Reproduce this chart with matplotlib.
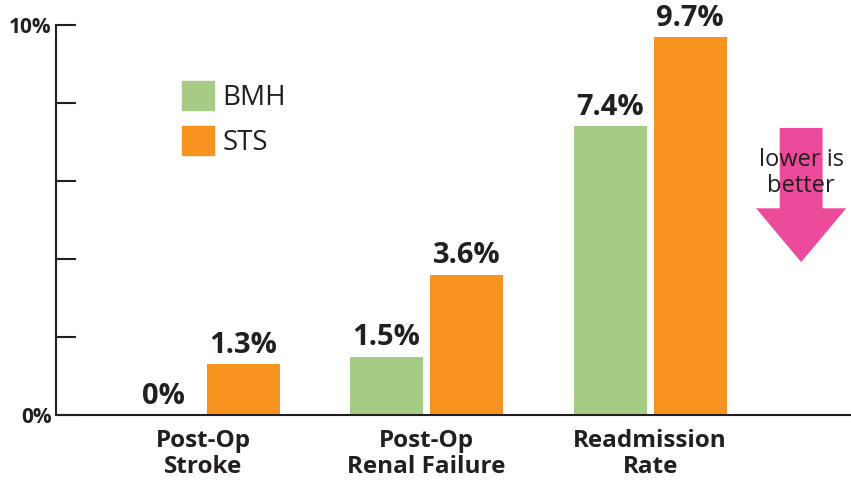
import matplotlib.pyplot as plt
import matplotlib.patches as mpatches
import numpy as np

categories = ["Post-Op\nStroke", "Post-Op\nRenal Failure", "Readmission\nRate"]
bmh = [0.0, 1.5, 7.4]
sts = [1.3, 3.6, 9.7]
series_names = ["BMH", "STS"]
ytick_vals = [0, 2, 4, 6, 8, 10]
ytick_labels = ["0%", "", "", "", "", "10%"]

green = "#A6CB85"
orange = "#F7931E"
pink = "#EC4A9B"
ink = "#231F20"

plt.rcParams["font.family"] = ["Open Sans", "DejaVu Sans"]

fig = plt.figure(figsize=(8.51, 4.84), dpi=100)
ax = fig.add_axes([56 / 851, 69 / 484, 1 - 56 / 851, 390 / 484])

x = np.arange(len(categories))
w = 0.327
off = 0.179
b1 = ax.bar(x - off, bmh, w, color=green, zorder=2)
b2 = ax.bar(x + off, sts, w, color=orange, zorder=2)

for bars, vals in [(b1, bmh), (b2, sts)]:
    for r, v in zip(bars, vals):
        ax.annotate(f"{v:g}%", (r.get_x() + r.get_width() / 2, v),
                    xytext=(0, 3), textcoords="offset points",
                    ha="center", va="bottom", fontsize=21, fontweight="bold", color=ink)

ax.set_xlim(-0.658, 2.899)
ax.set_ylim(0, 10)
ax.set_yticks(ytick_vals)
ax.set_yticklabels(ytick_labels, fontsize=15, fontweight="bold", color=ink)
ax.set_xticks(x)
ax.set_xticklabels(categories, fontsize=17.5, fontweight="bold", color=ink, linespacing=1.1)
ax.tick_params(axis="x", length=0, pad=10)
ax.tick_params(axis="y", direction="in", length=14.5, width=1.5, color=ink, pad=3)

for s in ["top", "right"]:
    ax.spines[s].set_visible(False)
for s in ["left", "bottom"]:
    ax.spines[s].set_linewidth(1.5)
    ax.spines[s].set_color(ink)

# legend
handles = [mpatches.Patch(color=green, label=series_names[0]),
           mpatches.Patch(color=orange, label=series_names[1])]
leg = ax.legend(handles=handles, loc="upper left", bbox_to_anchor=(126 / 795, 1 - 56 / 390),
                frameon=False, fontsize=20, handlelength=1.15, handleheight=1.25,
                handletextpad=0.3, labelspacing=0.5, borderpad=0, borderaxespad=0)
for t in leg.get_texts():
    t.set_color(ink)

# "lower is better" arrow
ax.arrow(2.676, 7.36, 0, -3.44, width=0.192, head_width=0.403, head_length=1.38,
         length_includes_head=True, color=pink, lw=0, zorder=1)
ax.text(2.676, 6.2, "lower is\nbetter", ha="center", va="center", fontsize=17,
        color=ink, linespacing=1.1, zorder=3)

fig.savefig("out.png", dpi=100)
